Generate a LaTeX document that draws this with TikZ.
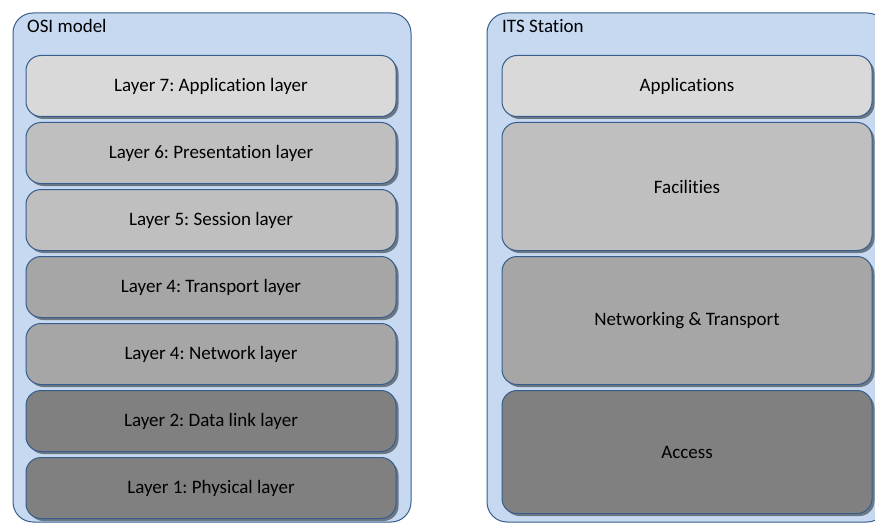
\documentclass[tikz,border=0pt]{standalone}
\usepackage{fontspec}
\setmainfont{Carlito}[Ligatures={NoCommon}]
\frenchspacing
\usetikzlibrary{shadows}
\definecolor{stackblue}{HTML}{C6D9F1}
\definecolor{edgeblue}{HTML}{385D8A}

\begin{document}
\begin{tikzpicture}[x=1pt,y=-1pt,
	stack/.style={draw=edgeblue,line width=1pt,fill=stackblue,rounded corners=20pt,inner sep=0,outer sep=0},
	layer/.style={draw=edgeblue,line width=1pt,rounded corners=15pt,inner sep=0,outer sep=0,minimum width=370pt,
		drop shadow={shadow xshift=2.5pt,shadow yshift=-2.5pt,fill=black,opacity=0.45},font=\fontsize{19}{23}\selectfont},
	title/.style={anchor=base west,inner sep=0,font=\fontsize{19}{23}\selectfont}]
	\useasboundingbox (0,0) rectangle (875,524);
	\clip (0,0) rectangle (875,524);
	\node[stack,minimum width=398pt,minimum height=509pt] (osi) at (212,267.5) {};
	\node[stack,minimum width=400pt,minimum height=509pt] (its) at (687,267.5) {};
	\node[title] (osilabel) at (27,33) {OSI model};
	\node[title] (itslabel) at (502,33) {ITS Station};
	\node[layer,fill=black!15,minimum height=61pt] (7) at (211,86) {Layer 7: Application layer};
	\node[layer,fill=black!25,minimum height=61pt] (6) at (211,153) {Layer 6: Presentation layer};
	\node[layer,fill=black!25,minimum height=61pt] (5) at (211,220) {Layer 5: Session layer};
	\node[layer,fill=black!35,minimum height=61pt] (4) at (211,287) {Layer 4: Transport layer};
	\node[layer,fill=black!35,minimum height=61pt] (3) at (211,354) {Layer 4: Network layer};
	\node[layer,fill=black!50,minimum height=61pt] (2) at (211,421) {Layer 2: Data link layer};
	\node[layer,fill=black!50,minimum height=61pt] (1) at (211,488) {Layer 1: Physical layer};
	\node[layer,fill=black!15,minimum height=61pt] (apps) at (687,86) {Applications};
	\node[layer,fill=black!25,minimum height=128pt] (fac) at (687,186.5) {Facilities};
	\node[layer,fill=black!35,minimum height=128pt] (net) at (687,320.5) {Networking \& Transport};
	\node[layer,fill=black!50,minimum height=123pt] (acc) at (687,452) {Access};
\end{tikzpicture}
\end{document}
